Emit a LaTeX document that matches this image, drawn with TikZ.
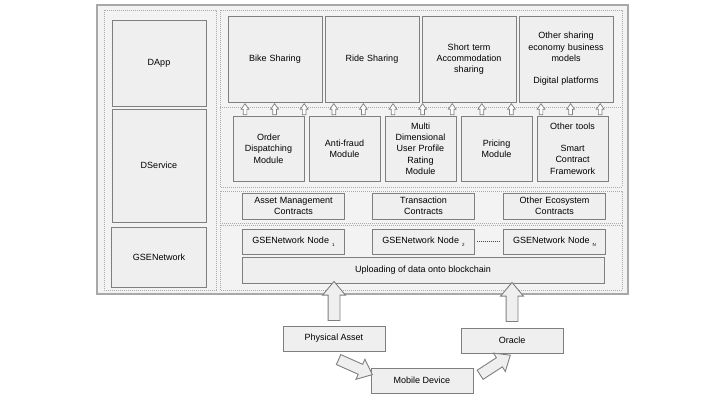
\documentclass[tikz,border=0pt]{standalone}
\usepackage{fontspec}
\setmainfont{Liberation Sans}
\usetikzlibrary{positioning,calc,shapes.arrows}
\definecolor{boxline}{HTML}{7F7F7F}
\definecolor{boxfill}{HTML}{EFEFEF}
\definecolor{framefill}{HTML}{F3F3F3}
\definecolor{frameline}{HTML}{A8A8A8}
\definecolor{dotline}{HTML}{ABABAB}
\newcommand{\nodesub}[1]{\raisebox{-2.5pt}{\fontsize{4.5}{5}\selectfont #1}}

\begin{document}
\begin{tikzpicture}[x=1pt, y=-1pt, node distance=0pt, outer sep=0pt,
    font=\fontsize{9}{11.3}\selectfont,
    blk/.style={draw=boxline, line width=1pt, fill=boxfill, align=center, inner sep=0pt},
    app/.style={blk, minimum width=94pt, minimum height=86pt, text width=90pt},
    mod/.style={blk, minimum width=71pt, minimum height=65pt, text width=67pt},
    ctr/.style={blk, minimum width=102pt, minimum height=26pt, text width=100pt},
    layer/.style={draw=dotline, line width=0.8pt, dash pattern=on 0.8pt off 1.2pt},
    uparrow/.style={single arrow, draw=boxline, line width=0.7pt, fill=white,
        minimum height=11pt, minimum width=7pt, inner sep=1.5pt,
        single arrow head extend=2pt, single arrow tip angle=70},
    bigarrow/.style={single arrow, draw=boxline, line width=0.9pt, fill=boxfill,
        minimum height=39pt, minimum width=21pt, inner sep=5.5pt,
        single arrow head extend=5.5pt, single arrow tip angle=80}]
    \useasboundingbox (0,0) rectangle (720,402);

    % frame and layers
    \draw [draw=frameline, line width=1.2pt, fill=framefill] (97,5) rectangle (628,294);
    \draw [layer] (104,10) rectangle (216,290);
    \draw [layer] (220,10) rectangle (622,187);
    \draw [layer] (220,107) -- (622,107);
    \draw [layer] (220,191) rectangle (622,223);
    \draw [layer] (220,225) rectangle (622,290);

    % left column
    \node [blk, minimum width=94pt, minimum height=86pt] (dapp) at (159,63) {DApp};
    \node [blk, minimum width=94pt, minimum height=113pt, below=3pt of dapp] (dservice) {DService};
    \node [blk, minimum width=95pt, minimum height=60pt, below=5pt of dservice] (gsenet) {GSENetwork};

    % applications
    \node [app] (bike) at (275,59) {Bike Sharing};
    \node [app, right=3pt of bike] (ride) {Ride Sharing};
    \node [app, right=3pt of ride] (stay) {Short term\\Accommodation\\sharing};
    \node [app, right=3pt of stay] (othereco) {Other sharing\\economy business\\models\\[11pt]Digital platforms};

    % modules
    \node [mod] (order) at (268.5,148.5) {Order\\Dispatching\\Module};
    \node [mod, right=5pt of order] (fraud) {Anti-fraud\\Module};
    \node [mod, right=5pt of fraud] (rating) {Multi\\Dimensional\\User Profile\\Rating\\Module};
    \node [mod, right=5pt of rating] (pricing) {Pricing\\Module};
    \node [mod, right=5pt of pricing] (tools) {Other tools\\[11pt]Smart\\Contract\\Framework};

    \foreach \i in {0,...,12}
        \node [uparrow, rotate=90] (up\i) at (245+29.6*\i,110.5) {};

    % contracts
    \node [ctr] (asset) at (293.5,206) {Asset Management\\Contracts};
    \node [ctr, right=28pt of asset] (trans) {Transaction\\Contracts};
    \node [ctr, right=29pt of trans] (ecocon) {Other Ecosystem\\Contracts};

    % network nodes
    \node [ctr, minimum height=25pt] (node1) at (293.5,241.5) {GSENetwork Node \nodesub{1}};
    \node [ctr, minimum height=25pt, right=28pt of node1] (node2) {GSENetwork Node \nodesub{2}};
    \node [ctr, minimum height=25pt, right=29pt of node2] (nodeN) {GSENetwork Node \nodesub{N}};
    \draw [draw=black!70, line width=1pt, dash pattern=on 1pt off 1pt, shorten <=2pt, shorten >=3pt] (node2.east) -- (nodeN.west);

    \node [blk, minimum width=362pt, minimum height=26pt] (upload) at (423,270) {Uploading of data onto blockchain};

    % data sources
    \node [blk, minimum width=102pt, minimum height=25pt] (asset phys) at (334,338.5) {Physical Asset};
    \node [blk, minimum width=102pt, minimum height=25pt] (mobile) at (422,380.5) {Mobile Device};
    \node [blk, minimum width=102pt, minimum height=25pt] (oracle) at (512,340.5) {Oracle};

    \path (asset phys.north) -- (asset phys.north |- upload.south) node [midway, bigarrow, rotate=90] (physup) {};
    \path (oracle.north) -- (oracle.north |- upload.south) node [midway, bigarrow, rotate=90] (oracleup) {};
    \node [bigarrow, minimum height=37pt, minimum width=20pt, inner sep=5pt, rotate=-24] (physmob) at ($(asset phys.south)!0.5!(mobile.west)$) {};
    \node [bigarrow, minimum height=36pt, minimum width=20pt, inner sep=5pt, rotate=33] (moborac) at ($(mobile.east)!0.5!(oracle.south)$) {};
\end{tikzpicture}
\end{document}
